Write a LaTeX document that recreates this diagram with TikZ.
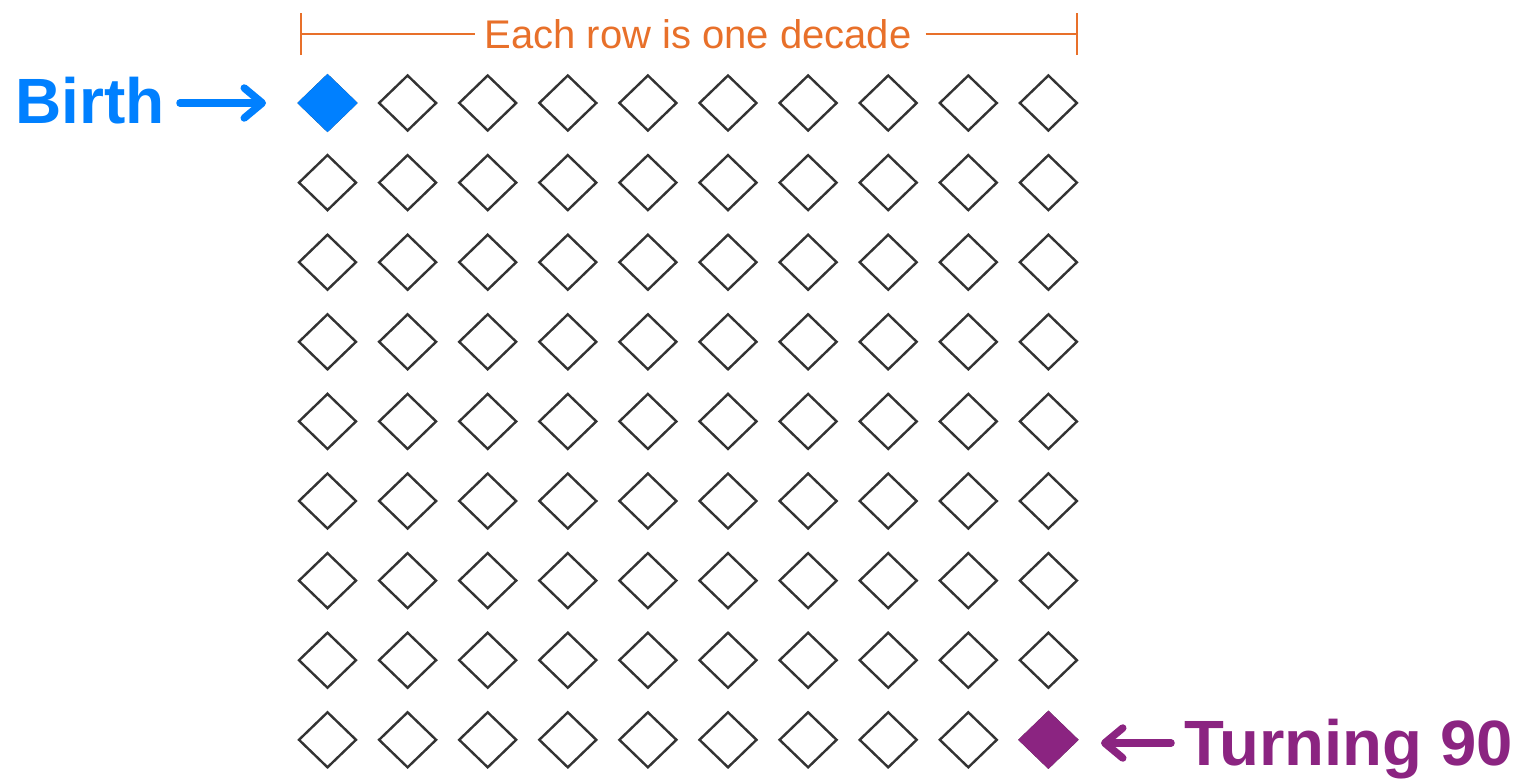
\documentclass[tikz,border=0pt]{standalone}
\usepackage{fontspec}
\setmainfont{Liberation Sans}
\usetikzlibrary{shapes.geometric,arrows.meta}
\definecolor{birthblue}{HTML}{0080FF}
\definecolor{ninetypurple}{HTML}{8B2481}
\definecolor{bracketorange}{HTML}{E8702A}
\definecolor{diamondgray}{HTML}{333333}
\begin{document}
\begin{tikzpicture}[x=1pt,y=-1pt,
  cell/.style={shape=diamond,inner sep=0pt,minimum width=58pt,minimum height=56pt,draw=diamondgray,line width=2.4pt},
  bigtext/.style={font=\fontsize{64}{70}\selectfont\bfseries,inner sep=0pt},
  bigarrow/.style={line width=7.5pt,line cap=round,-{Straight Barb[length=18pt,width=30pt,line cap=round,line join=round]}},
  bracket/.style={draw=bracketorange,line width=2pt}]
\useasboundingbox (0,0) rectangle (1528,780);
\foreach \r in {1,...,9}{
  \foreach \c in {1,...,10}{
    \node[cell] (d-\r-\c) at ({327.5+80.1*(\c-1)},{103+79.6*(\r-1)}) {};
  }
}
\node[cell,draw=birthblue,fill=birthblue] at (d-1-1) {};
\node[cell,draw=ninetypurple,fill=ninetypurple] at (d-9-10) {};
% labels
\node[bigtext,text=birthblue,anchor=base west] (birth) at (15,123) {Birth};
\node[bigtext,text=ninetypurple,anchor=base west,xscale=1.02] (ninety) at (1184,765) {Turning 90};
\draw[bigarrow,draw=birthblue] (180,103) coordinate (ba) -- (266,103) coordinate (bb);
\draw[bigarrow,draw=ninetypurple] (1171,743) coordinate (pa) -- (1101,743) coordinate (pb);
% bracket
\coordinate (bl) at (300.5,34);
\coordinate (br) at (1077,34);
\node[text=bracketorange,font=\fontsize{40}{44}\selectfont,inner sep=0pt,anchor=base] (dec) at (698,48) {Each row is one decade};
\draw[bracket] ([yshift=-21pt]bl) -- ([yshift=21pt]bl);
\draw[bracket] ([yshift=-21pt]br) -- ([yshift=21pt]br);
\draw[bracket] (bl) -- ([xshift=-9pt]bl -| dec.west);
\draw[bracket] ([xshift=14pt]br -| dec.east) -- (br);
\end{tikzpicture}
\end{document}
